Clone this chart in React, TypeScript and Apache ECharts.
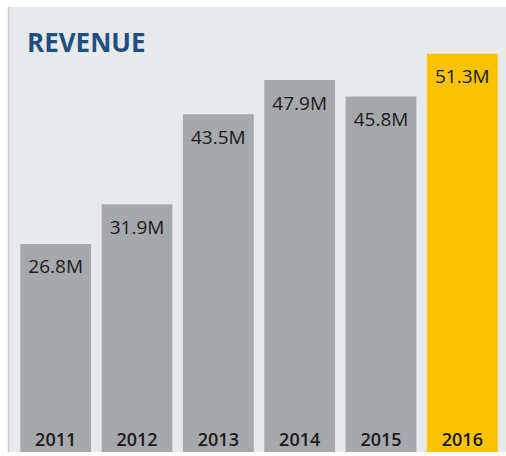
import React, { useEffect, useRef } from "react";
import * as echarts from "echarts";

const years = ["2011", "2012", "2013", "2014", "2015", "2016"];
const revenue = [26.8, 31.9, 43.5, 47.9, 45.8, 51.3];
const highlightYear = "2016";
const titleText = "REVENUE";

export default function App() {
  const ref = useRef<HTMLDivElement>(null);
  useEffect(() => {
    if (!ref.current) return;
    const chart = echarts.init(ref.current, null, { renderer: "svg" });
    const font = "'Open Sans', 'Noto Sans', sans-serif";
    chart.setOption({
      animation: false,
      graphic: [
        {
          type: "rect",
          z: -10,
          silent: true,
          shape: { x: 8, y: 7, width: 498, height: 445 },
          style: { fill: "#e8e9eb" },
        },
        {
          type: "line",
          z: -9,
          silent: true,
          shape: { x1: 8.5, y1: 7, x2: 8.5, y2: 452 },
          style: { stroke: "#c9cacc", lineWidth: 1.5 },
        },
        {
          type: "text",
          left: 27,
          top: 29,
          style: {
            text: titleText,
            fill: "#1d4f80",
            font: `bold 26px ${font}`,
          },
        },
      ],
      grid: { left: 15, right: 3, top: 25, bottom: 4, containLabel: false },
      xAxis: {
        type: "category",
        data: years,
        axisLine: { show: false },
        axisTick: { show: false },
        axisLabel: {
          inside: true,
          margin: 4,
          color: "#1a1a1a",
          fontSize: 18,
          fontWeight: 600,
          fontFamily: "'Open Sans', sans-serif",
          lineHeight: 18,
        },
        z: 10,
      },
      yAxis: {
        type: "value",
        min: 0,
        max: 55,
        show: false,
        splitLine: { show: false },
      },
      series: [
        {
          type: "bar",
          barCategoryGap: "13%",
          data: revenue.map((v, i) => ({
            value: v,
            itemStyle: { color: years[i] === highlightYear ? "#fec300" : "#a6a8ab" },
          })),
          label: {
            show: true,
            position: "insideTop",
            distance: 13,
            formatter: (p: any) => `${p.value}M`,
            color: "#1a1a1a",
            fontSize: 19,
            fontFamily: "'Open Sans', sans-serif",
          },
        },
      ],
    });
    return () => chart.dispose();
  }, []);
  return (
    <div
      ref={ref}
      style={{ position: "fixed", left: 0, top: 0, width: 506, height: 456, background: "#ffffff" }}
    />
  );
}
